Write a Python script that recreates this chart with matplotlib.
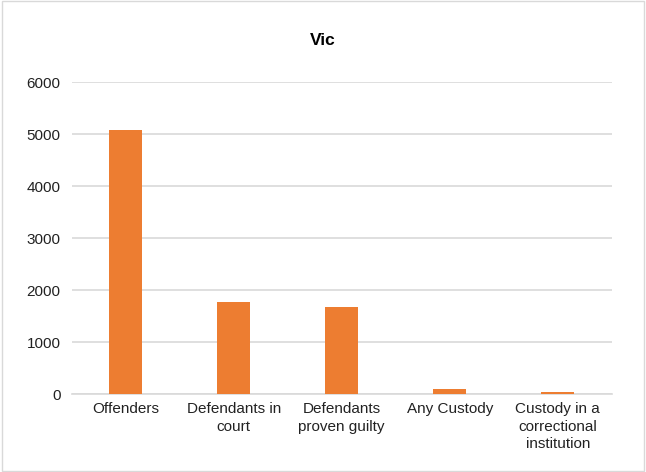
import matplotlib.pyplot as plt
from matplotlib.patches import Rectangle

plt.rcParams['font.family'] = ['Liberation Sans', 'DejaVu Sans']

# data
categories = ['Offenders', 'Defendants in\ncourt', 'Defendants\nproven guilty',
              'Any Custody', 'Custody in a\ncorrectional\ninstitution']
values = [5070, 1780, 1670, 90, 50]
yticks = [0, 1000, 2000, 3000, 4000, 5000, 6000]

fig = plt.figure(figsize=(6.46, 4.72), dpi=100)
ax = fig.add_axes([0.111, 0.165, 0.836, 0.661])

x = range(len(categories))
ax.bar(x, values, width=0.31, color='#ED7D31', zorder=3)

ax.set_xlim(-0.5, len(categories) - 0.5)
ax.set_ylim(0, 6000)
ax.set_yticks(yticks)
ax.set_xticks(list(x))
ax.set_xticklabels(categories, fontsize=11, color='#222222', linespacing=1.3)
ax.tick_params(axis='y', labelsize=11, colors='#222222', length=0, pad=8)
ax.tick_params(axis='x', length=0, pad=6)
ax.grid(axis='y', color='#D9D9D9', linewidth=1.2, zorder=0)
for s in ['top', 'right', 'left']:
    ax.spines[s].set_visible(False)
ax.spines['bottom'].set_color('#D9D9D9')
ax.spines['bottom'].set_linewidth(1.2)

fig.text(0.5, 0.915, 'Vic', ha='center', va='center', fontsize=12.5, fontweight='bold')

# light border round the chart area
fig.patches.append(Rectangle((0.003, 0.003), 0.994, 0.994, transform=fig.transFigure,
                             fill=False, edgecolor='#D9D9D9', linewidth=1))

fig.savefig('out.png', dpi=100)
